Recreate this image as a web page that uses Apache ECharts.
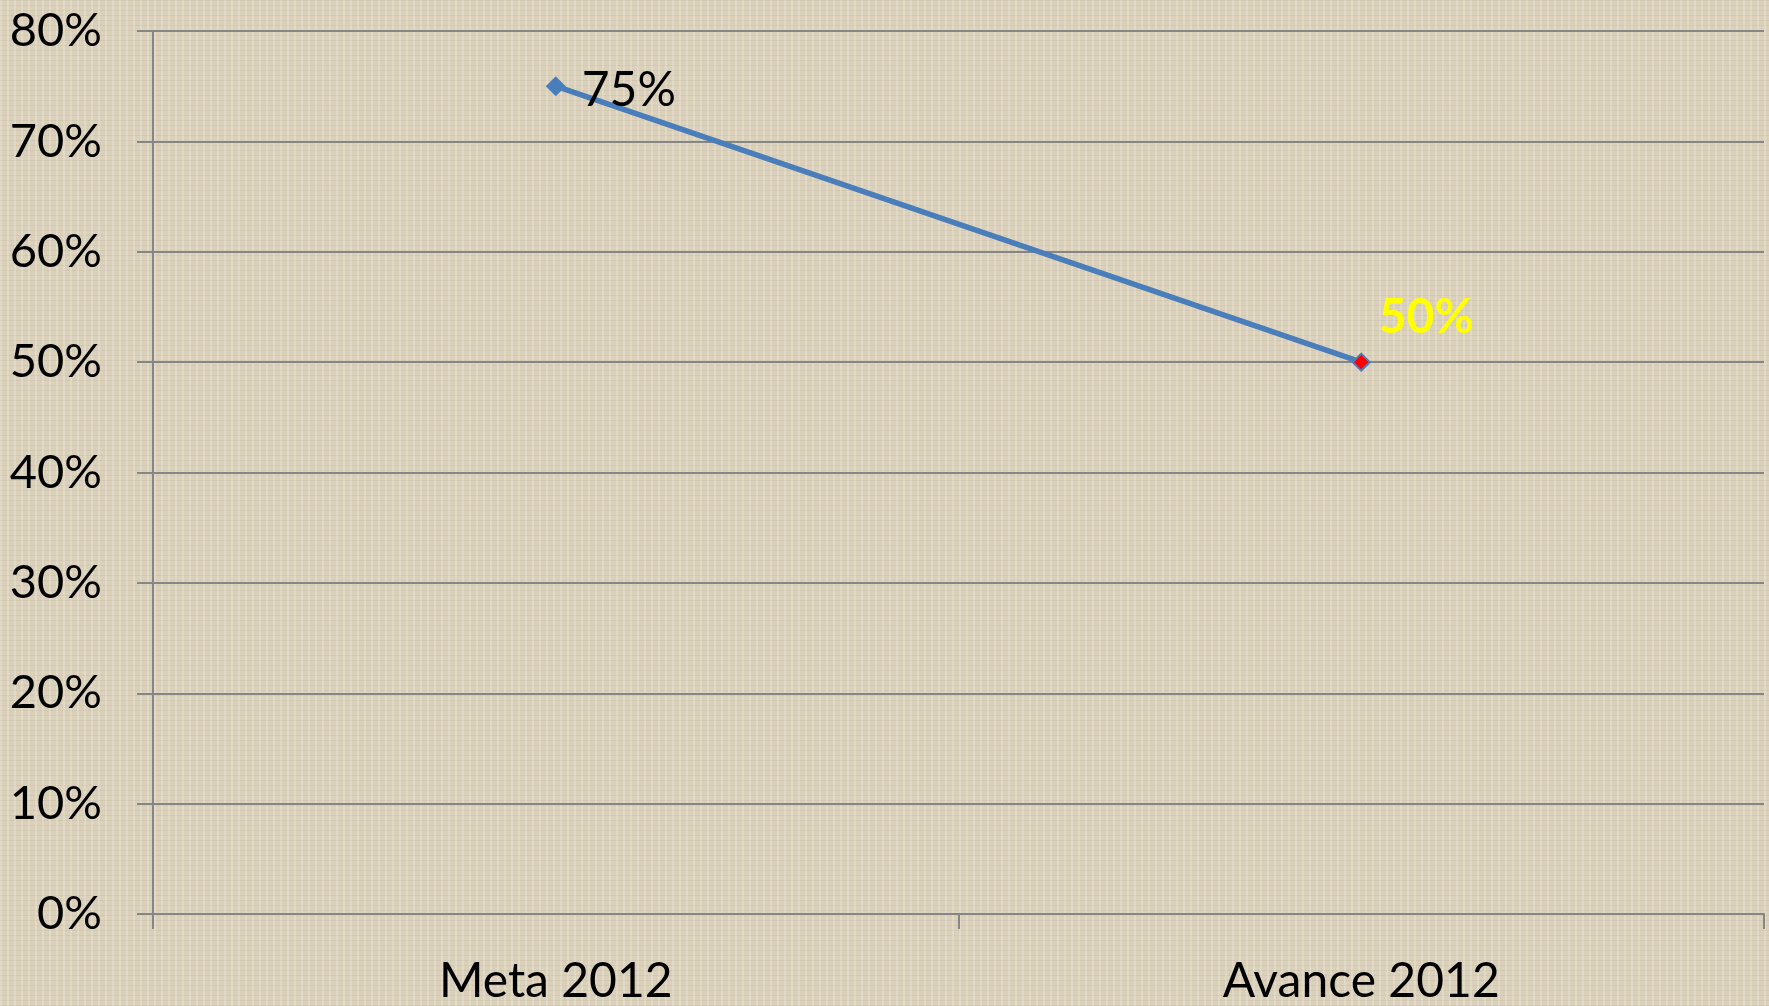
<!DOCTYPE html>
<html>
<head>
<meta charset="utf-8">
<script src="https://cdn.jsdelivr.net/npm/echarts@6/dist/echarts.min.js"></script>
<style>
  html, body { margin: 0; padding: 0; }
  body {
    background-color: #dbd1bb;
    background-image:
      repeating-linear-gradient(90deg, rgba(255,255,255,0.2) 0px, rgba(255,255,255,0.2) 2px, rgba(0,0,0,0) 2px, rgba(0,0,0,0) 7px),
      repeating-linear-gradient(0deg, rgba(110,95,70,0.08) 0px, rgba(110,95,70,0.08) 1px, rgba(0,0,0,0) 1px, rgba(0,0,0,0) 5px);
  }
  #chart { width: 1769px; height: 1006px; }
</style>
</head>
<body>
<div id="chart"></div>
<script>
var categories = ['Meta 2012', 'Avance 2012'];
var values = [75, 50];
var yTicks = [0, 10, 20, 30, 40, 50, 60, 70, 80];

var myChart = echarts.init(document.getElementById('chart'));

var font = 'Lato, "Open Sans", sans-serif';

option = {
  animation: false,
  backgroundColor: 'transparent',
  grid: {
    left: 153,
    right: 5,
    top: 31,
    bottom: 90
  },
  xAxis: {
    type: 'category',
    data: categories,
    boundaryGap: true,
    axisLine: { lineStyle: { color: '#868686', width: 2 } },
    axisTick: { show: true, length: 15, lineStyle: { color: '#868686', width: 2 } },
    axisLabel: {
      color: '#000',
      fontFamily: font,
      fontSize: 48,
      margin: 44
    }
  },
  yAxis: {
    type: 'value',
    min: yTicks[0],
    max: yTicks[yTicks.length - 1],
    interval: 10,
    axisLine: { show: true, lineStyle: { color: '#868686', width: 2 } },
    axisTick: { show: true, length: 16, lineStyle: { color: '#868686', width: 2 } },
    splitLine: { lineStyle: { color: '#868686', width: 2 } },
    axisLabel: {
      color: '#000',
      fontFamily: font,
      fontSize: 47,
      margin: 51,
      formatter: '{value}%'
    }
  },
  series: [
    {
      type: 'line',
      data: [
        {
          value: values[0],
          symbol: 'diamond',
          symbolSize: 20,
          itemStyle: { color: '#4a7ebb' },
          label: {
            show: true,
            position: 'right',
            distance: 16,
            offset: [0, 4],
            color: '#000',
            fontFamily: font,
            fontSize: 48,
            formatter: '{c}%'
          }
        },
        {
          value: values[1],
          symbol: 'diamond',
          symbolSize: 17,
          itemStyle: { color: '#ff0000', borderColor: '#4a7ebb', borderWidth: 2 },
          label: {
            show: true,
            position: 'top',
            offset: [65, -6],
            color: '#ffff00',
            fontFamily: font,
            fontWeight: 'bold',
            fontSize: 48,
            formatter: '{c}%'
          }
        }
      ],
      lineStyle: { color: '#4a7ebb', width: 5.5 }
    }
  ]
};
myChart.setOption(option);
</script>
</body>
</html>
